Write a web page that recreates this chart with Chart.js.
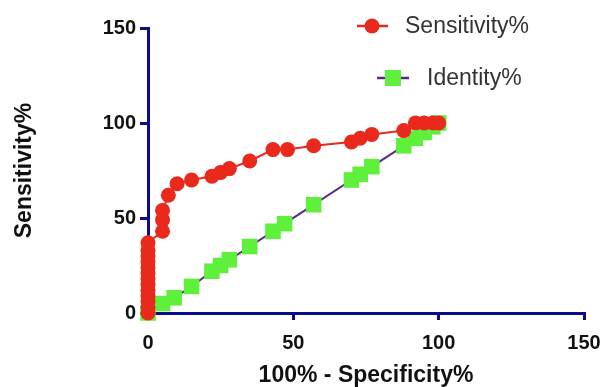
<!DOCTYPE html>
<html>
<head>
<meta charset="utf-8">
<script src="https://cdn.jsdelivr.net/npm/chart.js@4/dist/chart.umd.min.js"></script>
<style>
  html, body { margin: 0; padding: 0; background: #ffffff; }
  #wrap { width: 612px; height: 387px; position: relative; }
</style>
</head>
<body>
<div id="wrap"><canvas id="c" width="612" height="387"></canvas></div>
<script>
// ---- data ----
const seriesNames = ['Sensitivity%', 'Identity%'];
const sensX = [0, 0, 0, 0, 0, 0, 0, 0, 0, 0, 0, 0, 0, 5, 5, 5, 7, 10, 15, 22, 25, 28, 35, 43, 48, 57, 70, 73, 77, 88, 92, 95, 98, 100];
const sensY = [0, 3, 6, 9, 12, 15, 18, 21, 24, 27, 30, 33, 37, 43, 49, 54, 62, 68, 70, 72, 74, 76, 80, 86, 86, 88, 90, 92, 94, 96, 100, 100, 100, 100];
const identX = [0, 5, 9, 15, 22, 25, 28, 35, 43, 47, 57, 70, 73, 77, 88, 92, 95, 98, 100];
const identY = [0, 5, 8, 14, 22, 25, 28, 35, 43, 47, 57, 70, 73, 77, 88, 92, 95, 98, 100];
const xTicks = [0, 50, 100, 150];
const yTicks = [0, 50, 100, 150];
const xTitle = '100% - Specificity%';
const yTitle = 'Sensitivity%';

const FONT = "'Liberation Sans', Arial, Helvetica, sans-serif";
const RED = '#e8291c';
const GREEN = '#5ef03a';
const PURPLE = '#5a2a8a';
const AXIS = '#0b0b8e';

const toPts = (xs, ys) => xs.map((x, i) => ({ x: x, y: ys[i] }));

const legendPlugin = {
  id: 'customLegend',
  afterDraw(chart) {
    const ctx = chart.ctx;
    const ds = chart.data.datasets;
    const items = [
      { lx0: 357, lx1: 388, y: 26, px: 372, tx: 405 },
      { lx0: 377, lx1: 409, y: 78, px: 393, tx: 427 }
    ];
    ctx.save();
    items.forEach((it, i) => {
      const d = ds[i];
      ctx.strokeStyle = d.borderColor;
      ctx.lineWidth = 2.5;
      ctx.beginPath();
      ctx.moveTo(it.lx0, it.y);
      ctx.lineTo(it.lx1, it.y);
      ctx.stroke();
      ctx.fillStyle = d.pointBackgroundColor;
      ctx.beginPath();
      if (d.pointStyle === 'rect') {
        ctx.rect(it.px - 8, it.y - 8, 16, 16);
      } else {
        ctx.arc(it.px, it.y, 7.5, 0, Math.PI * 2);
      }
      ctx.fill();
      ctx.fillStyle = '#333333';
      ctx.font = '23px ' + FONT;
      ctx.textBaseline = 'middle';
      ctx.textAlign = 'left';
      ctx.fillText(d.label, it.tx, it.y + 1);
    });
    ctx.restore();
  }
};

new Chart(document.getElementById('c'), {
  type: 'scatter',
  data: {
    datasets: [
      {
        label: seriesNames[0],
        data: toPts(sensX, sensY),
        showLine: true,
        borderColor: RED,
        borderWidth: 2,
        pointStyle: 'circle',
        pointRadius: 7.5,
        pointBackgroundColor: RED,
        pointBorderColor: RED,
        pointBorderWidth: 0,
        clip: false
      },
      {
        label: seriesNames[1],
        data: toPts(identX, identY),
        showLine: true,
        borderColor: PURPLE,
        borderWidth: 2,
        pointStyle: 'rect',
        pointRadius: 11,
        pointBackgroundColor: GREEN,
        pointBorderColor: GREEN,
        pointBorderWidth: 0,
        clip: false
      }
    ]
  },
  options: {
    responsive: false,
    animation: false,
    events: [],
    layout: { padding: { left: 7, right: 28, top: 28, bottom: 0 } },
    plugins: {
      legend: { display: false },
      tooltip: { enabled: false }
    },
    scales: {
      x: {
        type: 'linear',
        min: 0,
        max: 150,
        afterBuildTicks(scale) { scale.ticks = xTicks.map(v => ({ value: v })); },
        afterFit(scale) { scale.height = 74; },
        ticks: {
          font: { family: FONT, size: 20, weight: 'bold' },
          color: '#111111',
          padding: 11,
          maxRotation: 0
        },
        grid: {
          drawOnChartArea: false,
          drawTicks: true,
          tickLength: 7,
          color: AXIS,
          lineWidth: 3
        },
        border: { display: true, color: AXIS, width: 3 },
        title: {
          display: true,
          text: xTitle,
          font: { family: FONT, size: 23, weight: 'bold', lineHeight: 1 },
          color: '#111111',
          padding: { top: 0, bottom: 0 }
        }
      },
      y: {
        type: 'linear',
        min: 0,
        max: 150,
        afterBuildTicks(scale) { scale.ticks = yTicks.map(v => ({ value: v })); },
        afterFit(scale) { scale.width = 141; },
        ticks: {
          font: { family: FONT, size: 20, weight: 'bold' },
          color: '#111111',
          padding: 4
        },
        grid: {
          drawOnChartArea: false,
          drawTicks: true,
          tickLength: 8,
          color: AXIS,
          lineWidth: 3
        },
        border: { display: true, color: AXIS, width: 3 },
        title: {
          display: true,
          text: yTitle,
          font: { family: FONT, size: 23, weight: 'bold' },
          color: '#111111',
          padding: { top: 4, bottom: 4 }
        }
      }
    }
  },
  plugins: [legendPlugin]
});
</script>
</body>
</html>
